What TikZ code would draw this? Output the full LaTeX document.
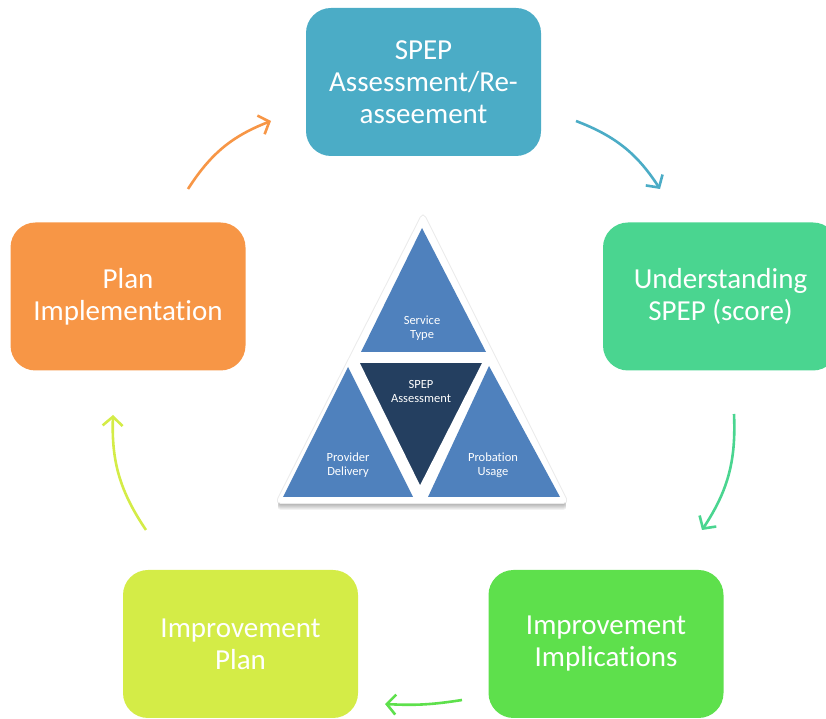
\documentclass[tikz,border=0pt]{standalone}
\usepackage{fontspec}
\setmainfont{Carlito}[Ligatures=NoCommon]
\usetikzlibrary{arrows.meta}

\definecolor{spepteal}{HTML}{4BACC6}
\definecolor{scoregreen}{HTML}{4AD590}
\definecolor{implgreen}{HTML}{5EE04C}
\definecolor{planlime}{HTML}{D4EC47}
\definecolor{planorange}{HTML}{F79646}
\definecolor{triblue}{HTML}{4F81BD}
\definecolor{tridark}{HTML}{243F60}

\tikzset{
  stagebox/.style={rectangle, rounded corners=25pt, minimum width=235pt, minimum height=148pt,
    text=white, align=center, font=\fontsize{29}{32}\selectfont},
  cyclearrow/.style={line width=2.6pt, bend left=18, -{Straight Barb[length=9pt, width=20pt, line width=2.6pt]}},
  trilabel/.style={text=white, align=center, font=\fontsize{12.5}{14}\selectfont}
}

\begin{document}
\begin{tikzpicture}[x=1pt, y=1pt]
				\useasboundingbox (0,0) rectangle (826,719);
				\clip (0,0) rectangle (826,719);
				% stages of the cycle
				\node[stagebox, fill=spepteal] (SA)at(423.5, 637) {SPEP\\Assessment/Re-\\asseement};
				\node[stagebox, fill=scoregreen] (US)at(720.5, 422.5) {Understanding\\SPEP (score)};
				\node[stagebox, fill=implgreen] (II)at(606, 75) {Improvement\\Implications};
				\node[stagebox, fill=planlime] (IP)at(240.5, 75) {Improvement\\Plan};
				\node[stagebox, fill=planorange] (PI)at(128, 422.5) {Plan\\Implementation};
				% arrow ends
				\coordinate (a1s) at (188, 530); \coordinate (a1e) at (271, 598);
				\coordinate (a2s) at (576, 598); \coordinate (a2e) at (660, 530);
				\coordinate (a3s) at (734, 305); \coordinate (a3e) at (702, 189);
				\coordinate (a4s) at (462, 19);  \coordinate (a4e) at (385, 15);
				\coordinate (a5s) at (146, 189); \coordinate (a5e) at (113, 304);
				\draw[cyclearrow, planorange] (a1s) to (a1e);
				\draw[cyclearrow, spepteal] (a2s) to (a2e);
				\draw[cyclearrow, scoregreen] (a3s) to (a3e);
				\draw[cyclearrow, implgreen, bend left=6] (a4s) to (a4e);
				\draw[cyclearrow, planlime] (a5s) to (a5e);
				% center triangle with its soft shadow
				\foreach \s in {1,...,7}
					\fill[black, opacity=0.05, rounded corners=5pt] (423, 506-\s) -- (568, 216-\s) -- (276, 216-\s) -- cycle;
				\draw[black!8, line width=2pt, rounded corners=5pt] (423, 506) -- (568, 216) -- (276, 216) -- cycle;
				\fill[white, rounded corners=5pt] (423, 506) -- (568, 216) -- (276, 216) -- cycle;
				\fill[triblue] (422, 491) -- (486, 367) -- (361, 367) -- cycle;
				\fill[triblue] (348, 352) -- (413, 222) -- (283, 222) -- cycle;
				\fill[triblue] (489, 353) -- (560, 222) -- (428, 222) -- cycle;
				\filldraw[fill=tridark, draw=white, line width=6pt, line join=round] (355, 359) -- (487, 359) -- (420, 227) -- cycle;
				\node[trilabel] (ST)at(422, 391) {Service\\Type};
				\node[trilabel] (SPA)at(421, 328) {SPEP\\Assessment};
				\node[trilabel] (PD)at(348, 254) {Provider\\Delivery};
				\node[trilabel] (PU)at(493, 254) {Probation\\Usage};
			\end{tikzpicture}
\end{document}
